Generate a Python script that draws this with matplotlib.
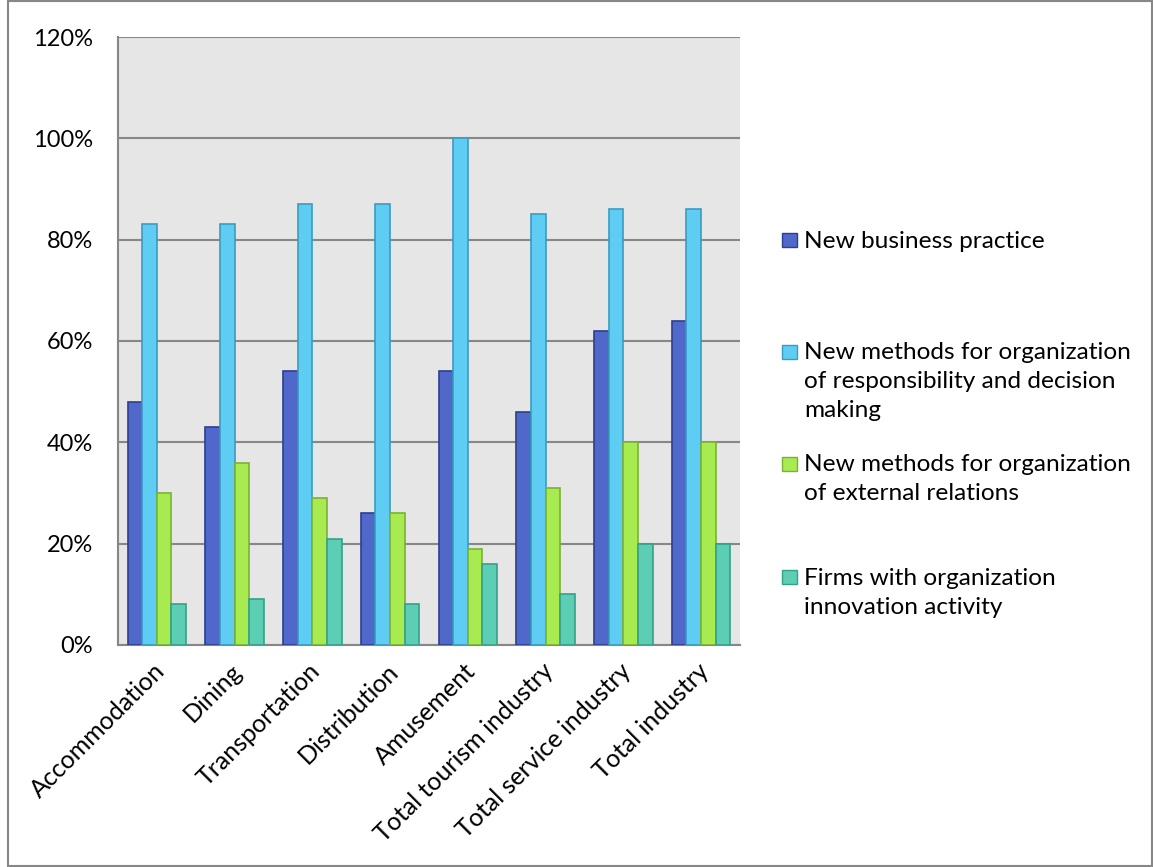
import matplotlib.pyplot as plt
import numpy as np
from matplotlib.patches import Rectangle
from matplotlib.transforms import ScaledTranslation

plt.rcParams['font.family'] = ['Lato', 'DejaVu Sans']

categories = ['Accommodation', 'Dining', 'Transportation', 'Distribution',
              'Amusement', 'Total tourism industry', 'Total service industry',
              'Total industry']
series_names = ['New business practice',
                'New methods for organization\nof responsibility and decision\nmaking',
                'New methods for organization\nof external relations',
                'Firms with organization\ninnovation activity']
business_practice = [48, 43, 54, 26, 54, 46, 62, 64]
responsibility = [83, 83, 87, 87, 100, 85, 86, 86]
external_relations = [30, 36, 29, 26, 19, 31, 40, 40]
innovation_activity = [8, 9, 21, 8, 16, 10, 20, 20]
yticks = [0, 20, 40, 60, 80, 100, 120]

series = [business_practice, responsibility, external_relations, innovation_activity]
fills = ['#5068C9', '#5FCDF3', '#A8EB51', '#5CCEB3']
edges = ['#2E3F8C', '#3A9CC0', '#7AB233', '#36A08A']

fig = plt.figure(figsize=(11.53, 8.67), dpi=100)
ax = fig.add_axes([0.1023, 0.2561, 0.5395, 0.7012])
ax.set_facecolor('#E6E6E6')

x = np.arange(len(categories))
w = 0.188
for i, vals in enumerate(series):
    ax.bar(x + (i - 1.5) * w, vals, width=w, color=fills[i],
           edgecolor=edges[i], linewidth=1.2, zorder=3)

ax.set_xlim(-0.5, len(categories) - 0.5)
ax.set_ylim(0, 120)
ax.set_yticks(yticks)
ax.set_yticklabels([f'{v}%' for v in yticks], fontsize=17)
ax.yaxis.grid(True, color='#878787', linewidth=1.5, zorder=0)
ax.tick_params(axis='y', length=0, pad=18)
ax.set_xticks(x)
ax.set_xticklabels(categories, rotation=45, ha='right', va='center',
                   rotation_mode='anchor', fontsize=18)
ax.tick_params(axis='x', length=0, pad=16)
# nudge the slanted category names a little to the right
shift = ScaledTranslation(0.04, 0, fig.dpi_scale_trans)
for lbl in ax.get_xticklabels():
    lbl.set_transform(lbl.get_transform() + shift)
for side in ['top', 'right']:
    ax.spines[side].set_visible(False)
for side in ['left', 'bottom']:
    ax.spines[side].set_color('#878787')
    ax.spines[side].set_linewidth(1.5)

# legend entries laid out down the right side
legend_tops = [0.7341, 0.6050, 0.4758, 0.3454]
for i, name in enumerate(series_names):
    top = legend_tops[i]
    fig.patches.append(Rectangle((0.6785, top - 0.0195), 0.0125, 0.0165,
                                 transform=fig.transFigure, facecolor=fills[i],
                                 edgecolor=edges[i], linewidth=1))
    fig.text(0.6975, top, name, fontsize=17.6, va='top', ha='left',
             linespacing=1.47)

fig.patches.append(Rectangle((0.0072, 0.0008), 0.9918, 0.998,
                             transform=fig.transFigure, fill=False,
                             edgecolor='#878787', linewidth=1.5))

fig.savefig('out.png', dpi=100)
